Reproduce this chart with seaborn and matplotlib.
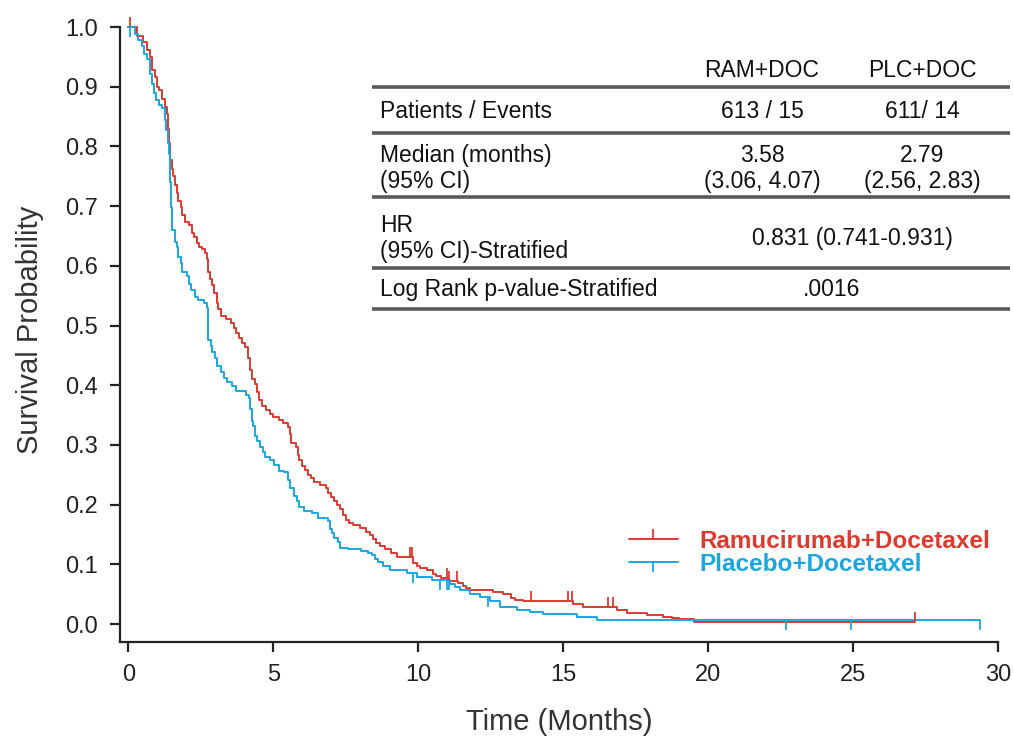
import numpy as np
import pandas as pd
import matplotlib
matplotlib.use("Agg")
import matplotlib.pyplot as plt
from matplotlib.lines import Line2D
import seaborn as sns

# Kaplan-Meier steps (months, survival probability)
ram_time = [0, 0.3, 0.5, 0.65, 0.76, 0.82, 0.93, 1.0, 1.05, 1.15, 1.26, 1.34, 1.37, 1.4, 1.43,
            1.49, 1.55, 1.61, 1.66, 1.72, 1.8, 1.86, 1.95, 2.1, 2.18, 2.26, 2.35, 2.45, 2.55,
            2.64, 2.72, 2.76, 2.8, 2.89, 2.95, 3.04, 3.1, 3.2, 3.35, 3.55, 3.64, 3.72, 3.82,
            3.92, 4.02, 4.14, 4.18, 4.28, 4.36, 4.45, 4.52, 4.6, 4.74, 4.9, 5.0, 5.2, 5.35,
            5.49, 5.58, 5.62, 5.78, 5.84, 5.9, 6.0, 6.1, 6.18, 6.3, 6.4, 6.6, 6.81, 6.9, 6.98,
            7.1, 7.2, 7.3, 7.4, 7.5, 7.6, 7.74, 8.0, 8.2, 8.34, 8.45, 8.55, 8.68, 8.85, 9.05,
            9.25, 9.83, 9.95, 10.06, 10.29, 10.5, 10.62, 10.78, 11.04, 11.38, 11.55, 11.65,
            11.79, 12.59, 12.94, 13.2, 13.35, 13.63, 15.35, 15.7, 16.85, 17.2, 17.89, 18.46,
            18.75, 18.98, 19.5, 27.15]
ram_surv = [1.0, 0.985, 0.975, 0.962, 0.95, 0.928, 0.916, 0.9, 0.894, 0.88, 0.866, 0.855, 0.83,
            0.805, 0.777, 0.762, 0.75, 0.735, 0.722, 0.708, 0.698, 0.685, 0.673, 0.668, 0.655,
            0.648, 0.638, 0.632, 0.628, 0.621, 0.612, 0.59, 0.578, 0.568, 0.555, 0.538, 0.528,
            0.516, 0.511, 0.505, 0.496, 0.487, 0.479, 0.471, 0.464, 0.445, 0.426, 0.41, 0.402,
            0.388, 0.376, 0.366, 0.359, 0.352, 0.346, 0.341, 0.336, 0.33, 0.318, 0.304, 0.297,
            0.284, 0.274, 0.265, 0.258, 0.25, 0.244, 0.238, 0.233, 0.228, 0.22, 0.213, 0.206,
            0.2, 0.193, 0.183, 0.175, 0.17, 0.166, 0.161, 0.155, 0.15, 0.142, 0.136, 0.13,
            0.125, 0.119, 0.113, 0.102, 0.097, 0.094, 0.09, 0.084, 0.081, 0.077, 0.073, 0.069,
            0.064, 0.06, 0.057, 0.054, 0.05, 0.044, 0.04, 0.038, 0.034, 0.029, 0.023, 0.018,
            0.015, 0.012, 0.01, 0.008, 0.0035, 0.0035]

plc_time = [0, 0.24, 0.32, 0.47, 0.53, 0.65, 0.74, 0.8, 0.88, 0.95, 1.05, 1.15, 1.26, 1.3, 1.37,
            1.4, 1.44, 1.46, 1.49, 1.52, 1.6, 1.66, 1.72, 1.8, 1.86, 2.01, 2.08, 2.15, 2.3, 2.4,
            2.62, 2.72, 2.74, 2.76, 2.84, 2.9, 2.98, 3.05, 3.2, 3.3, 3.41, 3.58, 3.7, 4.05, 4.16,
            4.2, 4.26, 4.3, 4.36, 4.45, 4.55, 4.65, 4.72, 4.9, 5.03, 5.2, 5.37, 5.52, 5.58, 5.72,
            5.8, 5.89, 6.05, 6.35, 6.53, 6.87, 6.95, 7.02, 7.1, 7.22, 7.3, 7.57, 8.03, 8.26, 8.4,
            8.51, 8.6, 8.8, 9.03, 9.6, 9.95, 10.47, 11.1, 11.27, 11.44, 11.79, 12.13, 12.48,
            12.82, 13.4, 13.86, 14.32, 15.47, 16.16, 29.39]
plc_surv = [1.0, 0.988, 0.978, 0.969, 0.955, 0.947, 0.922, 0.905, 0.889, 0.878, 0.87, 0.865,
            0.845, 0.827, 0.805, 0.788, 0.74, 0.698, 0.675, 0.66, 0.64, 0.632, 0.615, 0.605,
            0.59, 0.583, 0.57, 0.559, 0.548, 0.543, 0.538, 0.53, 0.505, 0.476, 0.465, 0.455,
            0.445, 0.432, 0.422, 0.412, 0.406, 0.398, 0.391, 0.384, 0.378, 0.36, 0.34, 0.331,
            0.315, 0.306, 0.297, 0.288, 0.28, 0.275, 0.266, 0.257, 0.254, 0.242, 0.228, 0.215,
            0.206, 0.196, 0.189, 0.186, 0.178, 0.172, 0.16, 0.152, 0.145, 0.138, 0.128, 0.125,
            0.122, 0.119, 0.116, 0.109, 0.104, 0.098, 0.091, 0.086, 0.079, 0.074, 0.067, 0.062,
            0.057, 0.051, 0.046, 0.038, 0.029, 0.023, 0.021, 0.017, 0.012, 0.007, 0.007]

# censoring times
ram_cens = [0.05, 9.72, 9.77, 11.0, 11.06, 11.35, 13.9, 15.15, 15.32, 16.54, 16.73, 27.15]
plc_cens = [0.05, 9.81, 10.75, 11.0, 11.06, 12.42, 22.7, 24.93, 29.39]

ARMS = ["Ramucirumab+Docetaxel", "Placebo+Docetaxel"]
COLORS = ["#dd3a2f", "#1aa6e2"]

x_ticks = [0, 5, 10, 15, 20, 25, 30]
y_ticks = [0.0, 0.1, 0.2, 0.3, 0.4, 0.5, 0.6, 0.7, 0.8, 0.9, 1.0]

# summary table
col_heads = ["RAM+DOC", "PLC+DOC"]
row_labels = ["Patients / Events", "Median (months)\n(95% CI)",
              "HR\n(95% CI)-Stratified", "Log Rank p-value-Stratified"]
ram_vals = ["613 / 15", "3.58\n(3.06, 4.07)"]
plc_vals = ["611/ 14", "2.79\n(2.56, 2.83)"]
hr_text = "0.831 (0.741-0.931)"
p_text = ".0016"

df = pd.concat([
    pd.DataFrame({"time": ram_time, "surv": ram_surv, "arm": ARMS[0]}),
    pd.DataFrame({"time": plc_time, "surv": plc_surv, "arm": ARMS[1]}),
])

sns.set_theme(style="white")
plt.rcParams["font.family"] = ["Liberation Sans", "DejaVu Sans"]
TXT = "#222222"

fig = plt.figure(figsize=(10.13, 7.43), dpi=100)
ax = fig.add_axes([120 / 1013, 1 - 642 / 743, 878 / 1013, 615 / 743])

sns.lineplot(data=df, x="time", y="surv", hue="arm", palette=COLORS, hue_order=ARMS,
             estimator=None, sort=False, drawstyle="steps-post", linewidth=1.4,
             legend=False, ax=ax, clip_on=False)

# censor marks: ticks up for RAM, down for PLC
for t_arr, s_arr, cens, col, mk in [(ram_time, ram_surv, ram_cens, COLORS[0], 2),
                                     (plc_time, plc_surv, plc_cens, COLORS[1], 3)]:
    idx = np.searchsorted(t_arr, cens, side="right") - 1
    ax.plot(cens, np.asarray(s_arr)[idx], linestyle="none", marker=mk, markersize=7,
            markeredgewidth=1.3, color=col, clip_on=False)

ax.set_xlim(-0.29, 30)
ax.set_ylim(-0.03, 1.0)
ax.set_xticks(x_ticks)
ax.set_yticks(y_ticks)
ax.set_yticklabels([f"{v:.1f}" for v in y_ticks])
sns.despine(ax=ax)
for sp in ["left", "bottom"]:
    ax.spines[sp].set_linewidth(1.6)
    ax.spines[sp].set_color(TXT)
ax.tick_params(axis="both", direction="out", length=7, width=1.6, color=TXT,
               labelsize=17, labelcolor=TXT, pad=9, left=True, bottom=True)

ax.set_xlabel("Time (Months)", fontsize=21, color="#333333")
ax.set_ylabel("Survival Probability", fontsize=21, color="#333333")
ax.xaxis.set_label_coords(0.5, -0.13)
ax.xaxis.label.set_va("center")
ax.yaxis.set_label_coords(-0.1025, 0.507)
ax.yaxis.label.set_va("center")

# legend
handles = [Line2D([0], [0], color=c, lw=1.4, marker=m, markersize=7, markeredgewidth=1.3)
           for c, m in zip(COLORS, [2, 3])]
leg = ax.legend(handles, ARMS, loc="center left", bbox_to_anchor=(0.5797, 0.145),
                frameon=False, borderpad=0, borderaxespad=0, handlelength=2.0,
                handletextpad=0.9, labelspacing=0.0, numpoints=1,
                prop={"size": 17.5, "weight": "bold"})
for txt, c in zip(leg.get_texts(), COLORS):
    txt.set_color(c)

# table
tf = ax.transAxes
TS = 16.5
for yl in [0.9024, 0.8276, 0.7236, 0.6081, 0.5415]:
    ax.plot([0.287, 1.0137], [yl, yl], transform=tf, color="#5a5a5a", lw=2.6,
            clip_on=False, solid_capstyle="butt")
col_x = [0.7312, 0.9134]
for cx, head in zip(col_x, col_heads):
    ax.text(cx, 0.930, head, transform=tf, ha="center", va="center", fontsize=TS, color="#111111")
row_y = [0.8618, 0.7699, 0.6561, 0.5724]
for ry, lab in zip(row_y, row_labels):
    ax.text(0.2961, ry, lab, transform=tf, ha="left", va="center", fontsize=TS,
            color="#111111", linespacing=1.18)
for vals, cx in [(ram_vals, col_x[0]), (plc_vals, col_x[1])]:
    for ry, v in zip(row_y[:2], vals):
        ax.text(cx, ry, v, transform=tf, ha="center", va="center", fontsize=TS,
                color="#111111", linespacing=1.18, multialignment="center")
ax.text(0.8337, row_y[2], hr_text, transform=tf, ha="center", va="center", fontsize=TS, color="#111111")
ax.text(0.811, row_y[3], p_text, transform=tf, ha="center", va="center", fontsize=TS, color="#111111")

fig.savefig("out.png", dpi=100)
